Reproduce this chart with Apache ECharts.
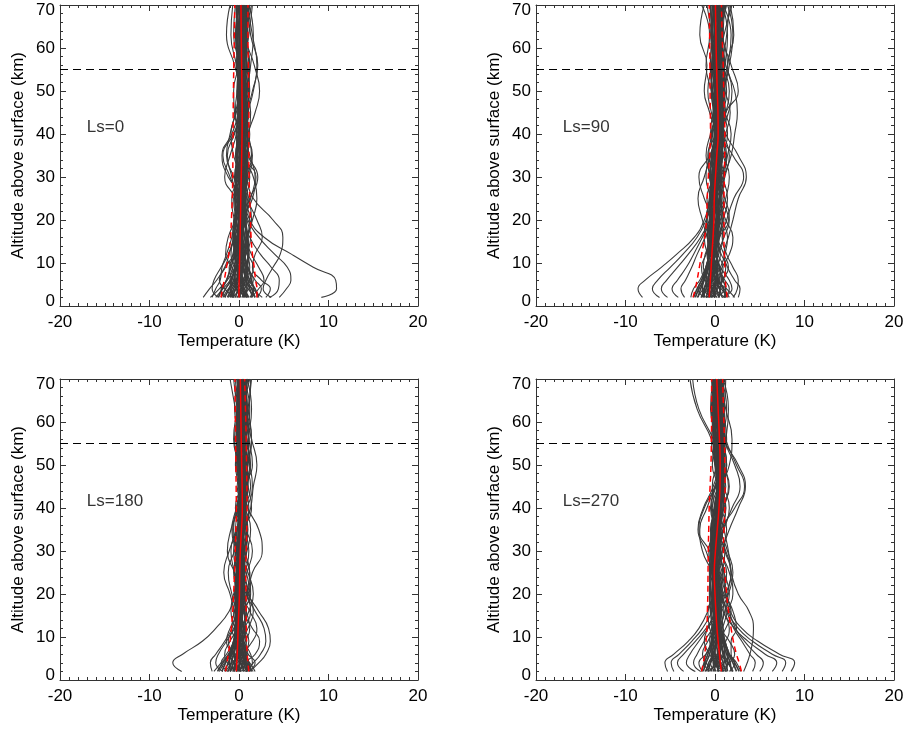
<!DOCTYPE html>
<html>
<head>
<meta charset="utf-8">
<script src="https://cdn.jsdelivr.net/npm/echarts@6/dist/echarts.min.js"></script>
<style>
html,body{margin:0;padding:0;background:#fff;}
#chart{width:907px;height:731px;}
</style>
</head>
<body>
<div id="chart"></div>
<script>
// Altitude levels (km) at which each profile is sampled
const ALT = [2, 4, 6, 9, 12, 16, 20, 25, 30, 35, 40, 45, 50, 56, 63, 70];

const LS_LABELS = ['Ls=0', 'Ls=90', 'Ls=180', 'Ls=270'];
const X_TICKS = [-20, -10, 0, 10, 20];
const Y_TICKS = [0, 10, 20, 30, 40, 50, 60, 70];
const REF_ALT = 55;

// ---------- Ls = 0 ----------
const CURVES_LS0 = [
  [9.2, 10.9, 10.8, 8.3, 5.9, 2.8, 1.2, 0.6, 0.2, 0.5, 0.4, 0.6, 0.5, 0.7, 0.4, 0.6],
  [3.6, 2.7, 3.0, 3.8, 4.6, 4.9, 3.8, 1.6, 0.8, 0.3, 0.6, 0.9, 1.0, 0.6, 0.2, 0.5],
  [4.5, 5.3, 5.8, 5.4, 4.0, 2.2, 1.0, 0.6, 0.9, 0.4, 0.2, 0.5, 0.7, 0.5, 0.8, 0.4],
  [3.4, 4.4, 4.5, 3.6, 2.4, 1.2, 0.6, 1.5, 1.9, 0.6, 0.7, 1.1, 0.4, 0.9, 0.6, 0.8],
  [-4.0, -3.3, -2.5, -1.6, -1.1, -0.6, -0.2, 0.1, -0.3, 0.2, 0.4, 0.1, 0.3, 0.6, 0.2, 0.5],
  [-3.0, -2.6, -2.1, -1.9, -1.4, -0.8, -0.5, -0.2, -1.0, -1.8, -0.6, 0.2, 0.5, 0.3, 0.0, 0.2],
  [-2.3, -3.0, -2.8, -2.0, -1.2, -0.5, 0.0, 0.3, -1.2, -1.9, -0.8, 0.0, 0.4, 0.1, -0.6, -0.4],
  [0.5, 0.8, 0.3, -0.2, 0.0, 0.4, 0.2, -0.4, -1.6, -1.0, -0.3, -0.1, 0.1, -0.5, -1.4, -1.0],
  [2.0, 2.5, 1.8, 1.0, 0.5, 0.9, 1.5, 2.0, 1.6, 0.7, 1.0, 1.8, 2.3, 1.7, 0.8, 1.2],
  [1.4, 2.2, 2.8, 2.2, 1.4, 0.6, 0.3, 1.2, 2.1, 1.0, 0.5, 0.9, 1.5, 2.1, 1.3, 1.0],
  [-1.8, -1.2, -0.5, -0.8, -1.5, -1.2, -0.4, 0.3, 0.7, 0.1, -0.3, 0.2, 0.8, 1.1, 0.7, 1.2],
  [1.0, 0.4, -0.6, -1.1, -0.4, 0.2, 0.7, 1.0, 0.5, -0.2, 0.3, 0.9, 0.6, 0.1, 0.5, 0.9],
  [-0.5, -1.6, -2.2, -1.5, -0.6, 0.0, 0.4, 0.0, -0.5, 0.0, 0.6, 0.4, -0.1, 0.3, 0.9, 0.6],
  [2.6, 1.5, 0.6, 0.2, 0.8, 1.3, 0.9, 0.4, 0.9, 1.4, 1.0, 0.4, 0.9, 1.3, 1.6, 1.1],
  [-1.2, -0.4, 0.6, 1.2, 0.9, 0.2, -0.3, -0.6, 0.2, 0.8, 0.5, -0.2, 0.0, 0.6, 0.3, -0.1],
  [0.3, 1.1, 1.6, 0.8, 0.0, -0.4, 0.1, 0.7, 1.2, 0.6, 0.0, 0.6, 1.2, 0.9, 0.2, 0.3],
  [-2.6, -1.8, -1.0, -0.3, 0.3, 0.6, 0.2, -0.3, -0.8, -1.3, -0.5, 0.3, 0.9, 0.4, 0.1, 0.7],
  [1.8, 1.0, 0.2, -0.4, -0.9, -0.5, 0.3, 0.8, 0.3, -0.3, -0.2, 0.4, 0.2, -0.3, 0.2, 0.6],
  [-0.8, 0.2, 0.9, 0.5, -0.2, -0.7, -0.6, 0.2, 1.1, 1.5, 0.8, 0.2, -0.2, 0.2, 0.7, 1.4],
  [0.9, -0.2, -1.0, -0.7, 0.2, 0.9, 1.2, 0.6, -0.1, 0.4, 1.1, 1.3, 0.8, 0.3, -0.2, 0.0],
  [-1.5, -2.0, -1.3, -0.4, 0.4, 0.2, -0.5, -0.8, 0.0, 0.6, 0.2, -0.4, -0.2, 0.5, 1.0, 0.4],
  [0.0, 0.6, 1.2, 1.6, 1.0, 0.3, 0.0, 0.5, 0.4, 0.9, 1.2, 0.7, 0.3, -0.2, 0.4, 1.0],
  [3.0, 3.5, 2.5, 1.5, 1.8, 2.6, 2.0, 0.9, 0.3, 0.5, 0.8, 0.5, 0.9, 1.2, 0.7, 0.2],
  [-3.2, -2.2, -1.4, -1.0, -0.7, -0.2, 0.5, 0.8, 0.2, -0.6, -0.9, -0.3, 0.3, 0.0, -0.4, 0.1],
  [1.2, 1.7, 1.0, 0.3, -0.3, 0.1, 0.6, 1.3, 1.8, 1.2, 0.6, 1.0, 1.6, 2.0, 1.5, 0.9],
  [-0.3, -0.9, -0.3, 0.5, 1.1, 0.7, -0.1, -0.5, -0.2, 0.3, 0.0, -0.5, -0.6, 0.0, 0.5, -0.2],
  [0.6, 0.0, -0.4, 0.1, 0.6, 1.0, 1.4, 1.1, 0.3, -0.4, 0.2, 0.8, 1.1, 0.6, 1.1, 1.5],
  [-0.9, -0.3, 0.4, 0.0, -0.6, -0.3, 0.3, 0.1, -0.6, -1.4, -1.0, -0.4, 0.0, -0.3, -0.9, -0.7]
];
const CORE_LS0 = [
  [-1.0, -0.6, -0.2, 0.1, 0.2, 0.0, -0.3, -0.4, -0.2, 0.1, 0.3, 0.2, 0.0, -0.2, -0.1, 0.1],
  [0.6, 0.9, 0.8, 0.5, 0.3, 0.4, 0.6, 0.7, 0.5, 0.3, 0.5, 0.7, 0.8, 0.6, 0.4, 0.5],
  [-0.4, -0.1, 0.2, 0.4, 0.3, 0.1, 0.0, 0.2, 0.5, 0.7, 0.6, 0.3, 0.1, 0.2, 0.4, 0.3],
  [1.5, 1.2, 0.8, 0.5, 0.6, 0.8, 0.7, 0.4, 0.2, 0.3, 0.6, 0.8, 0.7, 0.5, 0.7, 0.9],
  [-1.6, -1.1, -0.6, -0.3, -0.2, -0.1, 0.1, 0.3, 0.4, 0.2, 0.0, 0.1, 0.3, 0.5, 0.3, 0.0],
  [0.2, -0.3, -0.5, -0.3, 0.1, 0.4, 0.5, 0.3, 0.0, -0.2, 0.0, 0.3, 0.6, 0.8, 0.6, 0.3],
  [2.2, 1.8, 1.2, 0.7, 0.4, 0.2, 0.3, 0.6, 0.9, 0.8, 0.4, 0.1, 0.2, 0.5, 0.9, 1.1],
  [-2.0, -1.5, -0.9, -0.5, -0.4, -0.5, -0.3, 0.0, 0.2, 0.4, 0.5, 0.4, 0.2, 0.0, -0.2, -0.3],
  [0.8, 0.3, 0.0, 0.0, 0.3, 0.6, 0.8, 0.6, 0.2, 0.0, 0.1, 0.4, 0.5, 0.3, 0.1, 0.2],
  [-0.2, 0.4, 0.7, 0.8, 0.6, 0.3, 0.1, 0.0, 0.2, 0.5, 0.8, 0.9, 0.6, 0.4, 0.6, 0.8],
  [1.1, 0.6, 0.2, -0.2, -0.4, -0.2, 0.2, 0.5, 0.7, 0.6, 0.3, 0.0, -0.2, 0.0, 0.3, 0.5],
  [-1.3, -0.8, -0.3, 0.0, 0.1, 0.3, 0.4, 0.2, -0.1, -0.3, -0.1, 0.2, 0.4, 0.6, 0.8, 0.7],
  [0.4, 0.5, 0.4, 0.2, 0.0, -0.1, 0.0, 0.3, 0.6, 0.9, 1.0, 0.8, 0.5, 0.3, 0.2, 0.4],
  [1.8, 1.4, 1.0, 0.9, 1.0, 0.9, 0.6, 0.3, 0.1, 0.2, 0.4, 0.6, 0.4, 0.1, 0.0, 0.2],
  [-0.7, -0.4, -0.1, -0.2, -0.5, -0.6, -0.4, -0.1, 0.3, 0.5, 0.4, 0.1, -0.1, 0.1, 0.4, 0.6],
  [0.0, 0.2, 0.5, 0.9, 1.1, 1.0, 0.7, 0.4, 0.3, 0.4, 0.2, -0.1, 0.0, 0.3, 0.5, 0.2],
  [-2.3, -1.9, -1.4, -0.9, -0.5, -0.2, 0.0, -0.1, -0.3, -0.2, 0.1, 0.5, 0.7, 0.5, 0.2, 0.0],
  [1.3, 1.6, 1.4, 1.0, 0.6, 0.3, 0.2, 0.4, 0.8, 1.0, 0.9, 0.6, 0.3, 0.4, 0.8, 1.0],
  [-0.6, -1.0, -0.8, -0.4, 0.0, 0.2, 0.1, -0.2, -0.4, -0.2, 0.2, 0.4, 0.2, -0.1, -0.3, -0.1],
  [0.9, 0.4, 0.1, 0.3, 0.7, 0.9, 0.5, 0.1, 0.0, 0.3, 0.7, 1.0, 1.1, 0.9, 0.6, 0.7]
];
const MEAN_LS0 = [0.0, 0.0, 0.02, 0.05, 0.08, 0.12, 0.16, 0.2, 0.25, 0.3, 0.34, 0.35, 0.33, 0.3, 0.25, 0.22];
const LO_LS0 = [-2.0, -1.85, -1.65, -1.4, -1.15, -0.95, -0.85, -0.75, -0.7, -0.68, -0.66, -0.65, -0.62, -0.58, -0.52, -0.48];
const HI_LS0 = [2.0, 2.0, 1.85, 1.7, 1.5, 1.35, 1.28, 1.2, 1.12, 1.1, 1.1, 1.1, 1.08, 1.05, 1.0, 1.0];

// ---------- Ls = 90 ----------
const CURVES_LS90 = [
  [-8.1, -8.6, -7.8, -6.0, -4.3, -2.3, -1.2, -0.5, 0.3, 0.8, 0.5, 0.0, 0.4, 0.8, 0.3, -0.3],
  [-6.2, -7.0, -6.4, -5.0, -3.6, -2.0, -1.0, -0.2, 0.6, 1.2, 0.6, 0.2, 0.6, 1.1, 0.5, 0.1],
  [-5.3, -6.0, -5.4, -4.2, -3.0, -1.6, -0.6, 0.2, -0.6, -0.4, 0.3, 0.9, 0.4, -0.2, 0.6, 1.0],
  [-4.1, -4.8, -4.2, -3.2, -2.4, -1.4, -0.4, 0.6, 1.0, 0.4, -0.3, 0.2, 0.9, 1.4, 0.8, 0.4],
  [-3.4, -3.8, -3.3, -2.6, -2.0, -1.1, -0.3, -1.2, -1.8, -0.6, 0.4, 1.2, 1.6, 0.9, 0.2, 0.6],
  [2.6, 2.8, 2.2, 1.4, 1.0, 1.5, 2.0, 2.6, 3.5, 2.6, 1.2, 0.6, 1.0, 1.6, 2.0, 1.4],
  [2.0, 2.5, 2.6, 2.0, 1.3, 0.8, 1.3, 2.1, 3.2, 2.0, 0.8, 1.2, 2.6, 1.8, 0.9, 1.2],
  [1.6, 1.0, 0.4, 0.8, 1.6, 2.0, 1.2, 0.5, 1.0, 1.8, 2.2, 2.5, 2.2, 1.4, 2.1, 1.7],
  [-1.5, -1.0, -0.4, 0.2, -0.3, -0.9, -1.4, -1.9, -1.2, -0.5, 0.0, -0.6, -1.2, -0.9, -1.7, -1.2],
  [-2.7, -2.4, -1.7, -1.0, -0.2, 0.5, 1.5, 0.6, -0.4, -1.0, -0.5, 0.2, -0.4, -1.0, -0.6, -1.5],
  [-0.5, 0.3, 0.9, 1.2, 0.7, -0.1, -0.6, -0.2, 0.5, 0.9, 1.4, 1.0, 0.5, 0.8, 1.3, 1.6],
  [0.5, -0.3, -1.1, -1.5, -1.0, -0.4, 0.3, 0.8, 0.4, -0.3, 0.2, 0.9, 1.3, 0.8, 0.0, 0.3],
  [-1.2, -1.9, -1.5, -0.8, -0.1, 0.4, 0.0, -0.6, -0.2, 0.6, 1.0, 0.4, -0.2, 0.2, 0.9, 0.6],
  [1.0, 1.6, 1.1, 0.3, -0.4, -0.8, -0.3, 0.5, 1.1, 1.6, 0.9, 0.1, -0.3, 0.3, 1.0, 1.9],
  [-2.0, -1.3, -0.5, 0.2, 0.6, 0.1, -0.5, -0.9, -0.1, 0.7, 1.2, 1.7, 1.1, 0.4, -0.2, -0.6],
  [0.0, -0.8, -0.2, 0.6, 1.1, 1.4, 0.8, 0.1, -0.4, 0.1, 0.5, 0.0, 0.7, 1.4, 1.8, 0.9],
  [2.2, 1.3, 0.2, -0.5, -0.9, -0.6, 0.2, 1.0, 0.6, -0.2, -0.4, 0.3, 0.9, 0.3, -0.5, 0.2],
  [-0.9, -0.2, 0.5, 0.0, -0.8, -1.2, -0.9, -0.2, 0.7, 1.3, 0.7, -0.1, 0.2, 1.0, 0.6, 0.0],
  [1.4, 0.7, -0.2, -1.0, -0.5, 0.3, 0.9, 1.4, 0.8, 0.0, -0.5, -0.2, 0.6, 1.1, 1.4, 0.8],
  [-1.6, -0.7, 0.3, 0.9, 0.3, -0.3, 0.1, 0.7, 0.2, -0.7, -0.3, 0.5, 1.0, 0.4, -0.3, -0.9],
  [0.8, 1.9, 1.6, 0.6, 0.1, 0.4, 1.0, 0.3, -0.6, -0.8, 0.1, 0.8, 0.3, -0.4, 0.4, 1.1],
  [-0.3, -1.2, -0.9, -0.2, 0.4, 0.9, 0.5, -0.4, -1.0, -0.5, 0.6, 1.5, 1.9, 1.2, 0.5, 0.0],
  [1.2, 0.2, 0.8, 1.5, 1.0, 0.2, -0.4, 0.0, 0.9, 1.4, 1.8, 1.1, 0.3, -0.1, 0.5, 1.3],
  [-1.0, 0.0, -0.6, -1.3, -1.1, -0.2, 0.6, 1.2, 1.6, 0.9, 0.2, -0.4, -0.8, -0.3, 0.3, 0.5],
  [0.3, 1.0, 0.0, -0.6, 0.2, 1.0, 1.6, 1.1, 0.0, -0.4, 0.4, 1.2, 0.6, 0.0, 0.9, 0.4]
];
const CORE_LS90 = [
  [-1.5, -1.2, -0.8, -0.5, -0.3, -0.4, -0.6, -0.5, -0.2, 0.2, 0.5, 0.4, 0.1, -0.2, -0.3, -0.1],
  [-0.1, 0.2, 0.3, 0.1, -0.1, 0.0, 0.3, 0.5, 0.6, 0.7, 0.9, 1.0, 0.8, 0.5, 0.4, 0.6],
  [-1.0, -0.7, -0.4, -0.2, -0.2, -0.4, -0.3, 0.0, 0.4, 0.7, 0.6, 0.3, 0.0, 0.1, 0.3, 0.2],
  [0.8, 0.5, 0.1, -0.2, -0.1, 0.2, 0.4, 0.2, -0.1, 0.1, 0.6, 0.9, 0.7, 0.4, 0.6, 0.9],
  [-2.2, -1.8, -1.3, -0.9, -0.6, -0.4, -0.2, 0.0, 0.1, 0.0, 0.1, 0.3, 0.5, 0.4, 0.1, -0.2],
  [-0.6, -0.9, -1.0, -0.7, -0.3, 0.1, 0.2, 0.0, -0.3, -0.2, 0.2, 0.6, 0.9, 1.0, 0.7, 0.3],
  [1.2, 0.9, 0.4, 0.0, -0.3, -0.5, -0.3, 0.1, 0.5, 0.8, 0.7, 0.3, 0.0, 0.2, 0.6, 1.0],
  [-1.9, -1.6, -1.2, -0.8, -0.7, -0.8, -0.6, -0.3, 0.0, 0.3, 0.5, 0.4, 0.2, 0.0, -0.3, -0.5],
  [0.2, -0.4, -0.7, -0.6, -0.2, 0.3, 0.5, 0.3, 0.0, -0.1, 0.2, 0.5, 0.4, 0.1, -0.1, 0.1],
  [-0.8, -0.3, 0.1, 0.3, 0.2, -0.1, -0.4, -0.6, -0.3, 0.2, 0.7, 0.9, 0.6, 0.3, 0.5, 0.7],
  [0.5, 0.1, -0.3, -0.6, -0.8, -0.6, -0.2, 0.2, 0.4, 0.3, 0.0, -0.2, 0.0, 0.4, 0.8, 0.6],
  [-1.3, -1.0, -0.6, -0.3, 0.0, 0.2, 0.0, -0.3, -0.5, -0.3, 0.2, 0.5, 0.3, -0.1, -0.4, -0.3],
  [-0.3, 0.0, 0.0, -0.2, -0.5, -0.6, -0.5, -0.2, 0.3, 0.6, 0.8, 0.7, 0.4, 0.2, 0.0, 0.2],
  [1.0, 1.2, 0.9, 0.5, 0.2, 0.1, 0.2, 0.5, 0.7, 0.5, 0.3, 0.4, 0.7, 0.8, 0.5, 0.2],
  [-1.1, -1.4, -1.3, -1.0, -0.6, -0.2, 0.1, 0.3, 0.2, 0.0, -0.1, 0.1, 0.4, 0.6, 0.8, 0.7],
  [-0.4, -0.6, -0.4, 0.0, 0.3, 0.4, 0.2, -0.1, -0.2, 0.1, 0.5, 0.8, 1.1, 0.9, 0.4, 0.0],
  [0.4, 0.6, 0.7, 0.5, 0.1, -0.2, -0.3, 0.0, 0.3, 0.4, 0.2, 0.0, -0.3, -0.5, -0.3, -0.1],
  [-2.4, -2.0, -1.5, -1.0, -0.6, -0.5, -0.6, -0.4, 0.0, 0.4, 0.6, 0.5, 0.3, 0.3, 0.5, 0.4],
  [0.0, -0.3, -0.5, -0.4, 0.0, 0.5, 0.8, 0.6, 0.2, -0.1, 0.0, 0.2, 0.0, -0.3, 0.1, 0.5],
  [-0.7, -0.2, 0.2, 0.0, -0.4, -0.8, -0.9, -0.6, 0.0, 0.5, 0.3, -0.1, -0.4, -0.3, 0.0, -0.3]
];
const MEAN_LS90 = [-0.65, -0.58, -0.52, -0.43, -0.35, -0.22, -0.12, -0.08, 0.05, 0.2, 0.35, 0.33, 0.25, 0.17, 0.1, 0.05];
const LO_LS90 = [-2.45, -2.2, -2.0, -1.75, -1.5, -1.15, -0.95, -0.87, -0.75, -0.6, -0.5, -0.52, -0.55, -0.57, -0.6, -0.65];
const HI_LS90 = [1.35, 1.25, 1.15, 1.1, 1.05, 1.0, 1.0, 1.0, 1.05, 1.08, 1.1, 1.05, 0.98, 0.92, 0.8, 0.72];

// ---------- Ls = 180 ----------
const CURVES_LS180 = [
  [-6.4, -7.4, -6.3, -4.1, -2.6, -1.1, -0.4, 0.2, 0.6, 0.3, -0.1, 0.3, 0.8, 0.5, 0.0, 0.4],
  [1.2, 2.2, 3.0, 3.5, 3.3, 2.2, 1.0, 0.3, -0.2, 0.3, 0.7, 0.4, 0.1, 0.5, 0.9, 0.6],
  [0.8, 1.6, 2.4, 3.0, 2.8, 1.8, 0.8, 0.0, 0.5, 1.0, 0.6, 0.9, 1.3, 0.8, 0.3, 0.9],
  [-0.6, 0.2, 0.8, 0.4, -0.3, 0.1, 0.9, 1.5, 2.6, 2.2, 1.0, 0.5, 1.0, 1.4, 0.8, 0.3],
  [-2.8, -2.0, -1.2, -0.5, 0.1, -0.5, -1.0, -1.7, -1.1, -0.2, 0.3, 0.0, -0.4, -0.1, 0.5, 0.2],
  [-3.0, -3.2, -2.6, -1.6, -0.8, -0.2, 0.4, -0.5, -1.3, -0.9, -0.1, 0.4, 0.8, 0.3, -0.2, -0.6],
  [1.8, 1.2, 0.3, -0.4, 0.3, 1.1, 1.6, 1.0, 0.2, 0.6, 1.3, 1.6, 2.0, 1.4, 0.7, 1.2],
  [-1.8, -2.6, -2.3, -1.4, -0.5, 0.5, 1.2, 0.8, 0.0, -0.6, -0.3, 0.2, 0.6, 1.0, 1.4, 0.9],
  [0.3, -0.5, -1.0, -0.6, 0.2, 0.8, 0.5, -0.2, -0.6, -0.2, 0.4, 0.9, 0.5, 0.0, 0.4, 0.8],
  [-1.0, -0.2, 0.6, 1.1, 0.6, -0.1, -0.5, 0.0, 0.6, 0.9, 0.5, 0.0, 0.3, 0.8, 1.2, 0.5],
  [1.4, 0.9, 0.2, -0.3, -0.8, -0.5, 0.2, 0.7, 1.1, 0.6, 0.0, 0.4, 1.0, 0.6, -0.1, -0.4],
  [-0.4, -1.3, -1.6, -1.0, -0.2, 0.3, 0.0, -0.6, 0.0, 0.7, 1.1, 0.6, -0.1, -0.5, 0.0, 0.6],
  [0.7, 1.5, 1.3, 0.5, -0.1, -0.6, -0.2, 0.5, 0.2, -0.4, 0.1, 0.8, 1.2, 0.9, 0.4, 0.1],
  [-1.5, -0.8, 0.0, 0.7, 1.2, 0.8, 0.1, -0.5, -0.9, -0.3, 0.6, 1.3, 0.8, 0.2, -0.4, -1.0],
  [0.0, 0.6, 1.8, 2.3, 1.5, 0.4, -0.3, 0.3, 0.9, 1.3, 0.7, 0.1, -0.2, 0.4, 1.0, 1.4],
  [1.0, 0.1, -0.7, -1.2, -0.6, 0.2, 0.8, 1.2, 0.6, 0.0, 0.3, -0.2, 0.3, 1.1, 0.6, -0.2],
  [-2.2, -1.6, -0.8, 0.0, 0.5, 0.1, -0.4, -0.2, 0.4, 0.1, -0.4, 0.2, 0.7, 0.2, -0.5, 0.0],
  [0.5, 1.1, 0.5, -0.2, 0.6, 1.3, 0.9, 0.2, -0.4, 0.5, 1.4, 1.0, 0.4, -0.2, 0.3, 1.0],
  [-0.8, 0.4, 1.0, 0.3, -0.4, -0.9, -0.6, 0.1, 0.8, 0.3, -0.2, 0.5, 1.5, 1.1, 0.5, 0.3],
  [1.6, 0.5, -0.3, 0.2, 1.0, 1.6, 1.1, 0.4, -0.2, -0.7, 0.0, 0.7, 0.2, -0.3, 0.2, 0.7],
  [-1.2, -2.0, -1.4, -0.5, 0.0, -0.3, -0.8, -1.2, -0.5, 0.4, 0.8, 0.2, -0.3, 0.3, 0.8, 0.4],
  [0.2, -0.6, 0.3, 1.5, 2.0, 1.2, 0.4, 0.9, 1.5, 0.8, 0.2, 0.6, 0.9, 1.4, 1.0, 0.5],
  [-0.3, 0.8, -0.4, -1.4, -1.0, 0.0, 1.0, 0.5, -0.3, -0.8, -0.3, 0.3, 0.0, -0.6, -0.2, 0.3],
  [1.1, 1.8, 1.0, 0.0, -0.5, 0.4, 1.3, 1.2, 0.3, 0.0, 0.9, 1.5, 1.2, 0.5, 1.1, 1.3]
];
const CORE_LS180 = [
  [-1.2, -0.9, -0.6, -0.4, -0.3, -0.4, -0.3, 0.0, 0.3, 0.5, 0.4, 0.2, 0.0, -0.1, 0.1, 0.3],
  [0.4, 0.6, 0.5, 0.2, 0.0, 0.1, 0.3, 0.4, 0.2, 0.0, 0.3, 0.6, 0.7, 0.5, 0.3, 0.1],
  [-0.6, -0.3, 0.0, 0.1, -0.1, -0.3, -0.2, 0.1, 0.4, 0.6, 0.7, 0.5, 0.2, 0.0, -0.2, -0.1],
  [1.0, 0.7, 0.3, 0.0, 0.1, 0.4, 0.6, 0.4, 0.1, 0.0, 0.2, 0.4, 0.3, 0.1, 0.3, 0.6],
  [-1.6, -1.2, -0.8, -0.5, -0.2, 0.0, 0.1, 0.0, -0.2, 0.0, 0.3, 0.5, 0.6, 0.4, 0.1, -0.2],
  [0.0, -0.3, -0.5, -0.4, -0.1, 0.2, 0.3, 0.1, -0.1, 0.2, 0.6, 0.8, 0.5, 0.2, 0.4, 0.7],
  [1.4, 1.1, 0.7, 0.4, 0.3, 0.2, 0.1, 0.3, 0.6, 0.8, 0.7, 0.4, 0.1, 0.2, 0.5, 0.6],
  [-0.9, -1.1, -0.9, -0.5, -0.2, -0.1, -0.3, -0.5, -0.3, 0.1, 0.4, 0.3, 0.1, 0.3, 0.6, 0.5],
  [0.6, 0.2, -0.1, -0.2, 0.0, 0.3, 0.5, 0.6, 0.4, 0.2, 0.0, 0.1, 0.4, 0.7, 0.9, 0.7],
  [-0.3, 0.1, 0.4, 0.5, 0.3, 0.0, -0.2, -0.2, 0.1, 0.4, 0.5, 0.3, -0.1, -0.3, -0.2, 0.0],
  [0.8, 1.0, 0.8, 0.4, 0.0, -0.2, 0.0, 0.3, 0.5, 0.4, 0.2, 0.3, 0.6, 0.8, 0.6, 0.3],
  [-1.9, -1.5, -1.0, -0.6, -0.4, -0.2, 0.0, 0.2, 0.1, -0.1, 0.1, 0.4, 0.6, 0.5, 0.2, 0.0],
  [0.2, 0.0, 0.2, 0.5, 0.7, 0.6, 0.3, 0.0, -0.2, 0.0, 0.4, 0.7, 0.8, 0.6, 0.2, -0.1],
  [-0.5, -0.8, -0.6, -0.2, 0.2, 0.4, 0.3, 0.0, -0.1, 0.2, 0.6, 1.0, 0.9, 0.5, 0.2, 0.2],
  [1.2, 0.8, 0.4, 0.1, -0.1, 0.0, 0.2, 0.5, 0.8, 0.9, 0.6, 0.2, -0.1, 0.0, 0.3, 0.5],
  [-1.0, -0.6, -0.2, 0.0, 0.0, -0.2, -0.4, -0.3, 0.0, 0.3, 0.2, 0.0, 0.2, 0.5, 0.7, 0.9],
  [0.1, 0.4, 0.7, 0.8, 0.5, 0.2, 0.1, 0.2, 0.4, 0.5, 0.8, 0.9, 0.7, 0.3, 0.0, -0.2],
  [-2.4, -1.8, -1.1, -0.6, -0.3, -0.1, 0.0, -0.2, -0.4, -0.2, 0.2, 0.3, 0.1, -0.1, 0.0, 0.3],
  [0.9, 0.5, 0.0, -0.4, -0.4, -0.1, 0.2, 0.3, 0.1, 0.0, 0.1, 0.5, 0.9, 1.1, 0.8, 0.4],
  [-0.2, -0.5, -0.3, 0.2, 0.6, 0.8, 0.6, 0.3, 0.2, 0.4, 0.3, 0.0, 0.2, 0.3, 0.1, 0.2]
];
const MEAN_LS180 = [-0.3, -0.25, -0.2, -0.14, -0.1, -0.02, 0.05, 0.08, 0.15, 0.28, 0.37, 0.35, 0.3, 0.25, 0.2, 0.15];
const LO_LS180 = [-1.5, -1.35, -1.2, -1.0, -0.86, -0.7, -0.6, -0.5, -0.42, -0.35, -0.3, -0.32, -0.35, -0.38, -0.42, -0.45];
const HI_LS180 = [1.1, 1.0, 0.92, 0.85, 0.82, 0.8, 0.78, 0.75, 0.8, 0.86, 0.9, 0.88, 0.84, 0.8, 0.72, 0.63];

// ---------- Ls = 270 ----------
const CURVES_LS270 = [
  [-5.3, -5.6, -4.6, -3.0, -1.8, -0.8, -0.2, 0.2, 0.5, 0.3, 0.7, 1.0, 0.6, 0.3, 0.6, 0.9],
  [-4.6, -4.9, -4.0, -2.6, -1.4, -0.3, 0.4, 0.9, 0.3, -0.4, 0.2, 0.8, 1.1, 0.5, 0.0, 0.4],
  [-3.5, -4.2, -3.5, -2.2, -1.0, 0.2, 0.8, 0.4, -0.6, -1.8, -1.2, 0.0, 0.5, 0.2, -0.5, -0.2],
  [-2.2, -3.2, -2.8, -1.8, -0.8, 0.4, 1.2, 1.8, 1.2, 0.2, -0.5, 0.1, 0.7, -0.2, -1.8, -2.5],
  [-1.6, -2.4, -2.0, -1.2, -0.3, 0.6, 1.5, 2.0, 1.4, 0.6, 0.2, 0.7, 0.4, -0.4, -2.0, -2.8],
  [8.5, 8.9, 7.2, 4.8, 3.0, 1.7, 1.2, 1.0, 0.6, 0.9, 1.2, 0.8, 0.4, 0.7, 1.0, 0.6],
  [7.5, 7.9, 6.4, 4.2, 2.6, 1.4, 0.8, 0.4, 0.8, 1.3, 0.7, 0.2, 0.6, 1.1, 0.8, 0.3],
  [6.4, 6.9, 5.6, 3.7, 2.2, 1.2, 1.4, 1.8, 1.1, 0.5, 0.9, 1.6, 1.0, 0.5, 1.0, 1.2],
  [5.0, 5.4, 4.6, 3.3, 2.3, 1.6, 1.2, 0.8, 0.2, 0.7, 2.2, 3.3, 2.4, 1.2, 0.6, 0.4],
  [4.2, 4.5, 3.9, 3.0, 2.1, 1.3, 0.7, 0.3, 0.8, 1.6, 2.6, 3.4, 2.6, 1.0, 0.4, 0.7],
  [3.2, 3.6, 3.9, 4.2, 4.3, 3.8, 2.6, 1.8, 1.5, 1.0, 0.5, 0.9, 1.3, 0.8, 0.2, 0.5],
  [2.9, 2.4, 1.8, 1.8, 2.4, 2.0, 1.2, 0.6, 0.3, 0.9, 1.9, 2.8, 2.2, 1.0, 0.5, 0.9],
  [-0.6, -1.2, -1.0, -0.3, 0.5, 1.0, 0.6, -0.2, -1.0, -1.9, -1.3, -0.2, 0.3, 0.0, -0.4, 0.1],
  [0.4, 0.0, -0.6, -1.2, -0.8, 0.0, 0.4, -0.3, -1.4, -1.7, -0.9, 0.0, 0.8, 0.6, 0.1, -0.3],
  [-1.1, -0.5, 0.3, 0.8, 0.4, -0.2, -0.5, -0.3, 0.3, 0.7, 1.2, 0.8, 0.2, -0.2, 0.2, 0.6],
  [1.3, 0.7, 0.0, -0.6, -0.4, 0.3, 0.8, 0.5, -0.2, -0.5, 0.2, 0.9, 1.3, 0.9, 0.4, 0.0],
  [0.2, 1.0, 1.5, 1.0, 0.2, -0.4, -0.2, 0.4, 0.8, 0.2, -0.3, 0.3, 0.8, 1.3, 0.9, 0.5],
  [2.0, 1.4, 0.6, 0.0, 0.5, 1.1, 1.6, 1.0, 0.3, -0.3, 0.5, 1.2, 0.6, 0.0, 0.5, 1.0],
  [-0.3, -1.0, -1.4, -0.8, 0.0, 0.7, 0.3, -0.4, -0.7, 0.0, 0.8, 0.4, -0.3, 0.2, 0.8, 0.3],
  [0.9, 0.2, -0.4, 0.3, 1.2, 1.8, 1.0, 0.2, -0.4, 0.3, 1.0, 1.5, 1.0, 0.4, -0.1, -0.4],
  [-0.8, 0.3, 0.9, 0.2, -0.6, -0.8, 0.0, 0.8, 1.1, 0.6, 0.0, -0.3, 0.2, 0.8, 1.3, 0.7],
  [1.6, 2.2, 1.6, 0.8, 0.0, 0.4, 1.0, 1.3, 0.5, -0.1, 0.4, 0.6, 0.0, -0.4, 0.2, 0.8],
  [0.0, -0.5, 0.2, 1.2, 1.6, 0.9, 0.2, -0.2, 0.2, 1.0, 1.6, 1.0, 0.5, 1.2, 1.5, 0.9],
  [-1.4, -1.8, -1.0, 0.0, 0.8, 1.4, 2.0, 1.6, 0.6, 0.0, -0.4, 0.0, 0.6, 0.2, -0.3, 0.0],
  [0.6, 1.6, 2.2, 1.6, 0.6, 0.0, -0.3, 0.1, 0.6, 0.4, 0.1, 0.7, 1.6, 1.9, 1.2, 0.6]
];
const CORE_LS270 = [
  [-0.8, -0.5, -0.3, -0.2, -0.3, -0.5, -0.6, -0.5, -0.3, 0.0, 0.3, 0.4, 0.3, 0.1, -0.1, -0.2],
  [1.4, 1.2, 0.9, 0.6, 0.4, 0.3, 0.2, 0.1, 0.2, 0.4, 0.7, 0.9, 1.0, 0.8, 0.5, 0.4],
  [0.3, 0.5, 0.6, 0.4, 0.1, -0.2, -0.3, -0.2, 0.0, 0.3, 0.6, 0.7, 0.5, 0.3, 0.2, 0.1],
  [2.4, 2.0, 1.5, 1.0, 0.7, 0.5, 0.3, 0.1, -0.1, 0.0, 0.3, 0.6, 0.8, 0.7, 0.5, 0.6],
  [-1.3, -1.0, -0.6, -0.3, -0.1, 0.0, -0.1, -0.3, -0.4, -0.2, 0.2, 0.5, 0.7, 0.6, 0.3, 0.0],
  [0.9, 0.6, 0.3, 0.2, 0.3, 0.4, 0.2, -0.1, -0.3, -0.1, 0.3, 0.6, 0.5, 0.2, 0.0, 0.1],
  [1.8, 1.7, 1.3, 0.8, 0.3, 0.0, -0.1, 0.0, 0.3, 0.6, 0.9, 1.0, 0.8, 0.6, 0.7, 0.9],
  [-0.2, 0.2, 0.5, 0.5, 0.2, -0.1, -0.4, -0.6, -0.5, -0.2, 0.2, 0.3, 0.1, -0.1, 0.0, 0.3],
  [0.5, 0.0, -0.3, -0.4, -0.2, 0.1, 0.2, 0.1, 0.0, 0.2, 0.5, 0.8, 0.9, 0.7, 0.4, 0.2],
  [1.1, 1.4, 1.4, 1.1, 0.7, 0.3, 0.0, -0.2, -0.1, 0.2, 0.5, 0.6, 0.4, 0.3, 0.6, 1.0],
  [-1.0, -0.7, -0.2, 0.2, 0.4, 0.3, 0.0, -0.3, -0.2, 0.1, 0.4, 0.3, 0.0, -0.2, -0.3, -0.1],
  [2.7, 2.2, 1.6, 1.1, 0.9, 0.7, 0.5, 0.3, 0.2, 0.3, 0.6, 0.9, 1.1, 1.0, 0.7, 0.5],
  [0.1, -0.2, -0.1, 0.2, 0.5, 0.6, 0.4, 0.0, -0.3, -0.4, -0.1, 0.3, 0.6, 0.8, 0.6, 0.4],
  [1.2, 0.9, 0.6, 0.3, 0.0, -0.2, -0.2, 0.1, 0.4, 0.6, 0.4, 0.2, 0.3, 0.5, 0.8, 0.7],
  [-0.5, 0.0, 0.4, 0.7, 0.6, 0.3, 0.1, -0.1, -0.2, 0.0, 0.4, 0.8, 0.9, 0.5, 0.1, -0.1],
  [0.7, 1.0, 1.1, 0.9, 0.5, 0.2, 0.1, 0.3, 0.5, 0.4, 0.2, 0.4, 0.7, 0.9, 1.0, 0.8],
  [-1.5, -1.2, -0.8, -0.4, 0.0, 0.2, 0.2, 0.0, -0.1, 0.1, 0.3, 0.2, 0.1, 0.3, 0.4, 0.2],
  [2.0, 1.5, 1.0, 0.7, 0.6, 0.6, 0.4, 0.2, 0.0, -0.2, 0.0, 0.4, 0.8, 1.1, 1.0, 0.6],
  [0.4, 0.2, 0.0, 0.0, 0.2, 0.2, 0.0, -0.3, -0.5, -0.4, 0.0, 0.5, 0.6, 0.4, 0.2, 0.3],
  [1.0, 0.4, 0.0, -0.2, 0.1, 0.5, 0.6, 0.4, 0.1, 0.1, 0.3, 0.3, 0.2, 0.0, -0.2, 0.1]
];
const MEAN_LS270 = [0.7, 0.6, 0.5, 0.35, 0.22, 0.1, 0.0, -0.08, 0.05, 0.25, 0.45, 0.55, 0.57, 0.5, 0.35, 0.2];
const LO_LS270 = [-1.5, -1.3, -1.15, -1.0, -0.9, -0.85, -0.8, -0.78, -0.75, -0.7, -0.65, -0.55, -0.45, -0.4, -0.38, -0.38];
const HI_LS270 = [2.95, 2.7, 2.4, 2.05, 1.8, 1.5, 1.3, 1.1, 0.95, 1.0, 1.1, 1.12, 1.1, 1.05, 0.95, 0.85];

const PANELS = [
  {curves: CURVES_LS0, core: CORE_LS0, mean: MEAN_LS0, lo: LO_LS0, hi: HI_LS0, label: LS_LABELS[0]},
  {curves: CURVES_LS90, core: CORE_LS90, mean: MEAN_LS90, lo: LO_LS90, hi: HI_LS90, label: LS_LABELS[1]},
  {curves: CURVES_LS180, core: CORE_LS180, mean: MEAN_LS180, lo: LO_LS180, hi: HI_LS180, label: LS_LABELS[2]},
  {curves: CURVES_LS270, core: CORE_LS270, mean: MEAN_LS270, lo: LO_LS270, hi: HI_LS270, label: LS_LABELS[3]}
];

// ---------- layout / style ----------
const FONT = 'Liberation Sans, Arial, Helvetica, sans-serif';
const AXIS_COLOR = '#333';
const TEXT_COLOR = '#000';
const CURVE_COLOR = '#3c3c3c';
const FS = 17;
const GRID_BOXES = [
  {left: 60, top: 5},
  {left: 536, top: 5},
  {left: 60, top: 379},
  {left: 536, top: 379}
];
const GW = 358, GH = 301;

const grids = [], xAxes = [], yAxes = [], series = [];
const xMin = X_TICKS[0], xMax = X_TICKS[X_TICKS.length - 1];
const yMin = Y_TICKS[0], yMax = Y_TICKS[Y_TICKS.length - 1];

function tickCommon(minorSplit) {
  return {
    axisLine: {show: true, onZero: false, lineStyle: {color: AXIS_COLOR, width: 1}},
    axisTick: {show: true, inside: true, length: 6, lineStyle: {color: AXIS_COLOR, width: 1}},
    minorTick: {show: true, splitNumber: minorSplit, length: 3, lineStyle: {color: AXIS_COLOR, width: 1}},
    splitLine: {show: false},
    minorSplitLine: {show: false}
  };
}
const labelFont = {fontSize: FS, color: TEXT_COLOR, fontFamily: FONT};

function profileSeries(xi, yi, values, lineStyle, z) {
  return {
    type: 'line', xAxisIndex: xi, yAxisIndex: yi, silent: true, animation: false,
    symbol: 'none', smooth: 0.5, lineStyle: lineStyle,
    data: ALT.map((a, k) => [values[k], a]), z: z
  };
}

PANELS.forEach((p, i) => {
  grids.push({left: GRID_BOXES[i].left, top: GRID_BOXES[i].top, width: GW, height: GH,
              containLabel: false, outerBoundsMode: 'none'});
  xAxes.push(Object.assign({
    type: 'value', gridIndex: i, position: 'bottom', min: xMin, max: xMax, interval: 10,
    name: 'Temperature (K)', nameLocation: 'middle', nameGap: 27,
    nameTextStyle: labelFont,
    axisLabel: Object.assign({show: true, margin: 8}, labelFont)
  }, tickCommon(10)));
  xAxes.push(Object.assign({
    type: 'value', gridIndex: i, position: 'top', min: xMin, max: xMax, interval: 10,
    axisLabel: {show: false}
  }, tickCommon(10)));
  yAxes.push(Object.assign({
    type: 'value', gridIndex: i, position: 'left', min: yMin, max: yMax, interval: 10,
    name: 'Altitude above surface (km)', nameLocation: 'middle', nameGap: 33, nameRotate: 90,
    nameTextStyle: labelFont,
    axisLabel: Object.assign({
      show: true, margin: 5,
      formatter: (v) => v === yMin ? '{lo|' + v + '}' : (v === yMax ? '{hi|' + v + '}' : String(v)),
      rich: {
        lo: Object.assign({padding: [0, 0, 10, 0]}, labelFont),
        hi: Object.assign({padding: [10, 0, 0, 0]}, labelFont)
      }
    }, labelFont)
  }, tickCommon(5)));
  yAxes.push(Object.assign({
    type: 'value', gridIndex: i, position: 'right', min: yMin, max: yMax, interval: 10,
    axisLabel: {show: false}
  }, tickCommon(5)));

  const xi = i * 2, yi = i * 2;
  p.curves.forEach((c) => series.push(profileSeries(xi, yi, c, {color: CURVE_COLOR, width: 1.1}, 2)));
  p.core.forEach((c) => series.push(profileSeries(xi, yi, c, {color: CURVE_COLOR, width: 1.6}, 2)));
  [p.lo, p.hi].forEach((c) => series.push(profileSeries(xi, yi, c, {color: '#ff0000', width: 1.5, type: [6, 4]}, 3)));
  series.push(profileSeries(xi, yi, p.mean, {color: '#ff0000', width: 1.5}, 4));
  series.push({
    type: 'scatter', xAxisIndex: xi, yAxisIndex: yi, silent: true, animation: false,
    symbolSize: 0,
    data: [[-17, 41.5]],
    label: Object.assign({show: true, formatter: p.label, position: [0, 0], align: 'left',
                          verticalAlign: 'middle'}, labelFont),
    markLine: {
      silent: true, symbol: 'none', animation: false,
      label: {show: false},
      lineStyle: {color: '#000', width: 1, type: [8, 5]},
      data: [{yAxis: REF_ALT}]
    },
    z: 5
  });
});

const chart = echarts.init(document.getElementById('chart'), null, {renderer: 'canvas'});
chart.setOption({
  animation: false,
  backgroundColor: '#fff',
  grid: grids,
  xAxis: xAxes,
  yAxis: yAxes,
  series: series
});
</script>
</body>
</html>
